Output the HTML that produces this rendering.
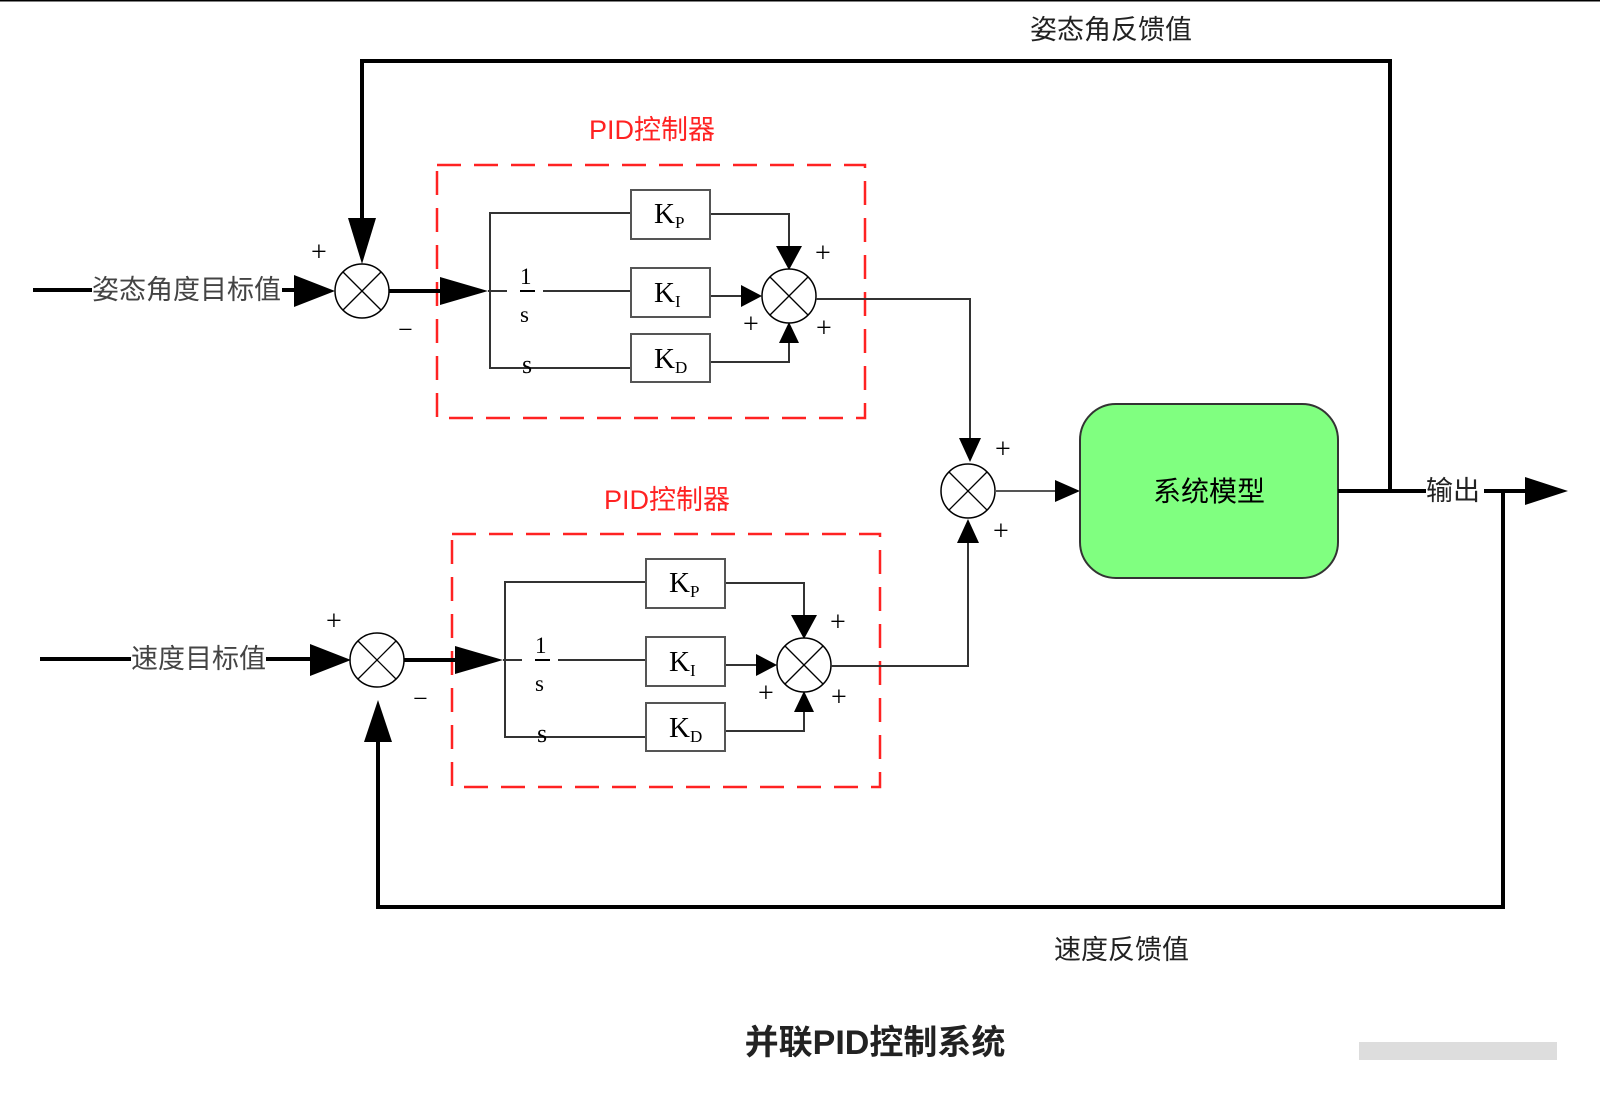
<!DOCTYPE html>
<html><head><meta charset="utf-8"><style>
html,body{margin:0;padding:0;background:#fff;width:1600px;height:1106px;overflow:hidden}
text{font-family:"Liberation Serif","Noto Serif CJK SC",serif}
.cn{font-family:"Liberation Sans","Noto Sans CJK SC",sans-serif}
</style></head><body>
<svg width="1600" height="1106" viewBox="0 0 1600 1106" xmlns="http://www.w3.org/2000/svg">
<defs>
<g id="sum">
  <circle r="27" fill="#fff" stroke="#000" stroke-width="1.5"/>
  <line x1="-19" y1="-19" x2="19" y2="19" stroke="#000" stroke-width="1.3"/>
  <line x1="-19" y1="19" x2="19" y2="-19" stroke="#000" stroke-width="1.3"/>
</g>
<g id="pid">
  <rect x="437" y="165" width="428" height="253" fill="none" stroke="#f22" stroke-width="2.5" stroke-dasharray="24 13"/>
  <line x1="389" y1="291" x2="445" y2="291" stroke="#000" stroke-width="4"/>
  <polygon points="440,277 488,291 440,305" fill="#000"/>
  <g stroke="#333" stroke-width="2" fill="none">
    <polyline points="631,213 490,213 490,368 631,368"/>
    <line x1="488" y1="291" x2="507" y2="291"/>
    <line x1="543" y1="291" x2="631" y2="291"/>
    <line x1="520" y1="291" x2="535" y2="291" stroke="#000"/>
    <polyline points="710,214 789,214 789,250"/>
    <polyline points="710,296 745,296"/>
    <polyline points="710,362 789,362 789,340"/>
    <rect x="631" y="190" width="79" height="49" stroke="#555"/>
    <rect x="631" y="268" width="79" height="49" stroke="#555"/>
    <rect x="631" y="334" width="79" height="48" stroke="#555"/>
  </g>
  <polygon points="776,246 802,246 789,270" fill="#000"/>
  <polygon points="741,285 741,307 762,296" fill="#000"/>
  <polygon points="779,343 799,343 789,322" fill="#000"/>
  <use href="#sum" x="789" y="296"/>
  <text x="520" y="284" font-size="23">1</text>
  <text x="520" y="322" font-size="23">s</text>
  <text x="522" y="373" font-size="26">s</text>
  <text x="654" y="223" font-size="29">K<tspan font-size="17" dy="5">P</tspan></text>
  <text x="654" y="302" font-size="29">K<tspan font-size="17" dy="5">I</tspan></text>
  <text x="654" y="368" font-size="29">K<tspan font-size="17" dy="5">D</tspan></text>
  <text x="815" y="262" font-size="28">+</text>
  <text x="743" y="333" font-size="28">+</text>
  <text x="816" y="337" font-size="28">+</text>
  <text x="311" y="261" font-size="28">+</text>
  <text x="398" y="338" font-size="26">−</text>
  <use href="#sum" x="362" y="291"/>
</g>
</defs>
<line x1="0" y1="0.5" x2="1600" y2="0.5" stroke="#000" stroke-width="2"/>

<use href="#pid"/>
<use href="#pid" x="15" y="369"/>

<text x="589" y="139" font-size="27" fill="#f22" class="cn">PID控制器</text>
<text x="604" y="509" font-size="27" fill="#f22" class="cn">PID控制器</text>

<line x1="33" y1="290" x2="92" y2="290" stroke="#000" stroke-width="4"/>
<text x="92" y="299" font-size="27" fill="#444" class="cn">姿态角度目标值</text>
<line x1="282" y1="290" x2="300" y2="290" stroke="#000" stroke-width="4"/>
<polygon points="294,275 335,291 294,307" fill="#000"/>
<line x1="40" y1="659" x2="131" y2="659" stroke="#000" stroke-width="4"/>
<text x="131" y="668" font-size="27" fill="#444" class="cn">速度目标值</text>
<line x1="266" y1="659" x2="315" y2="659" stroke="#000" stroke-width="4"/>
<polygon points="310,644 351,660 310,676" fill="#000"/>

<polyline points="1390,491 1390,61 362,61 362,220" fill="none" stroke="#000" stroke-width="4"/>
<polygon points="348,218 376,218 362,264" fill="#000"/>
<text x="1030" y="39" font-size="27" fill="#222" class="cn">姿态角反馈值</text>

<polyline points="1503,491 1503,907 378,907 378,740" fill="none" stroke="#000" stroke-width="4"/>
<polygon points="364,742 392,742 378,700" fill="#000"/>
<text x="1054" y="959" font-size="27" fill="#222" class="cn">速度反馈值</text>

<polyline points="816,299 970,299 970,440" fill="none" stroke="#333" stroke-width="2"/>
<polygon points="959,438 981,438 970,462" fill="#000"/>
<polyline points="831,666 968,666 968,540" fill="none" stroke="#333" stroke-width="2"/>
<polygon points="957,543 979,543 968,519" fill="#000"/>
<use href="#sum" x="968" y="491"/>
<text x="995" y="458" font-size="28">+</text>
<text x="993" y="540" font-size="28">+</text>
<line x1="995" y1="491" x2="1060" y2="491" stroke="#555" stroke-width="2"/>
<polygon points="1055,480 1080,491 1055,502" fill="#000"/>

<rect x="1080" y="404" width="258" height="174" rx="36" fill="#80ff80" stroke="#333" stroke-width="2"/>
<text x="1209" y="501" font-size="28" text-anchor="middle" class="cn">系统模型</text>

<line x1="1338" y1="491" x2="1426" y2="491" stroke="#000" stroke-width="4"/>
<text x="1426" y="500" font-size="27" fill="#222" class="cn">输出</text>
<line x1="1484" y1="491" x2="1530" y2="491" stroke="#000" stroke-width="4"/>
<polygon points="1525,477 1568,491 1525,505" fill="#000"/>

<text x="875" y="1054" font-size="34" font-weight="bold" text-anchor="middle" fill="#222" class="cn">并联PID控制系统</text>
<rect x="1359" y="1042" width="198" height="18" fill="#ddd"/>
</svg>
</body></html>
